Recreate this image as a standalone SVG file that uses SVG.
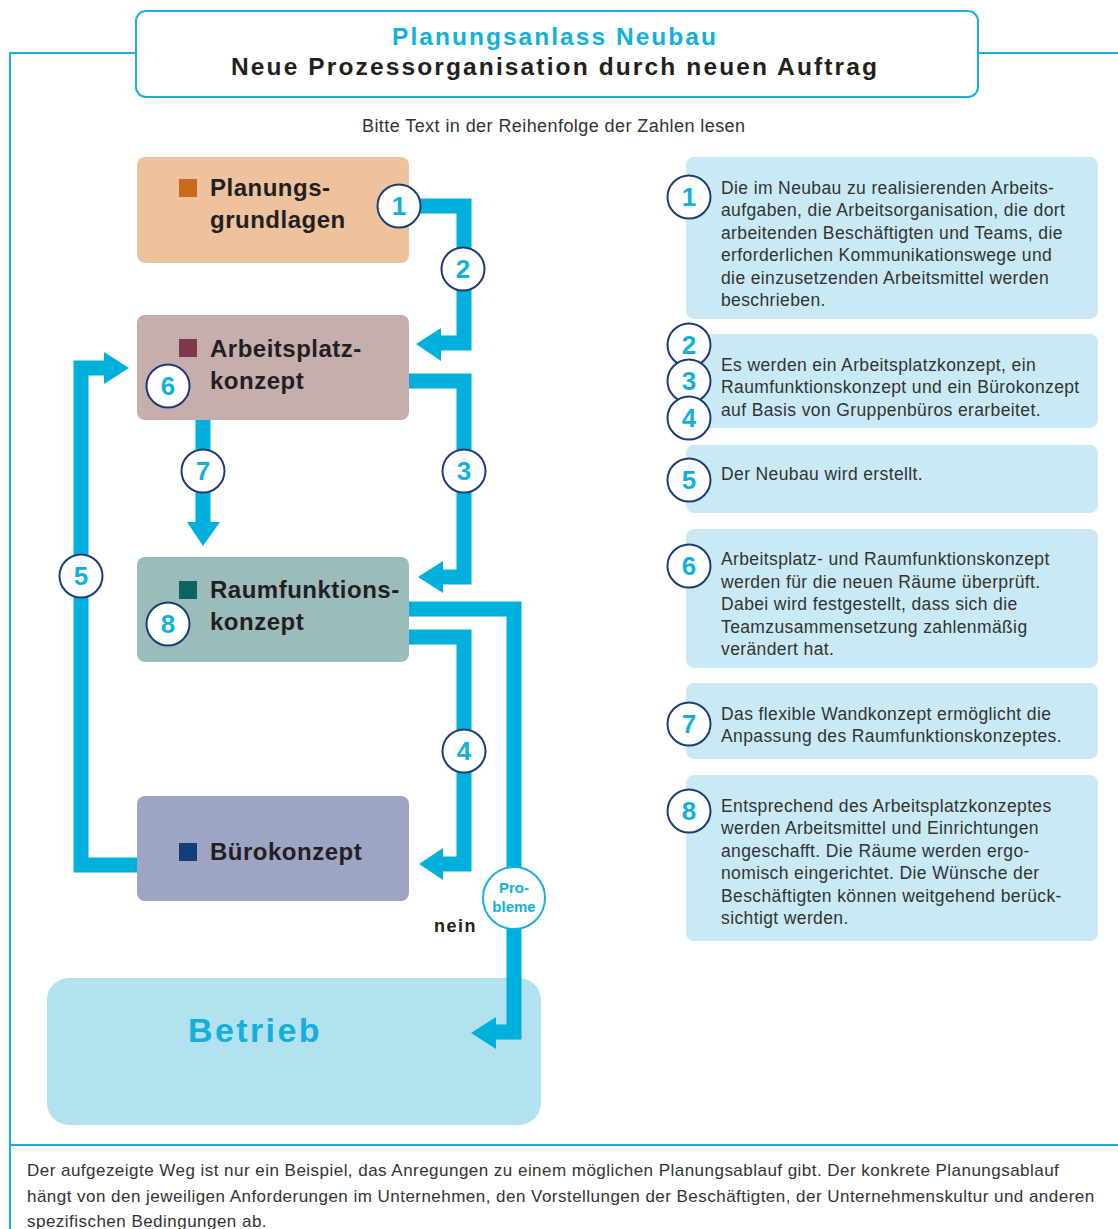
<svg xmlns="http://www.w3.org/2000/svg" width="1118" height="1229" viewBox="0 0 1118 1229">
<style>
text{font-family:"Liberation Sans",Arial,sans-serif}
.frame{fill:none;stroke:#1ab0d8;stroke-width:2}
.con{fill:none;stroke:#00b0dc;stroke-width:15;stroke-linejoin:miter}
.ah{fill:#00b0dc}
.lbl{font-size:24px;font-weight:bold;fill:#231f20;letter-spacing:0.5px}
.num circle{fill:#fff;stroke:#1b3c74;stroke-width:2}
.num text{font-size:26px;font-weight:bold;fill:#12b0da;text-anchor:middle}
.desc{fill:#c9eaf4}
.dt{font-size:17.5px;fill:#333;letter-spacing:0.38px}
.ft{font-size:17px;fill:#333;letter-spacing:0.47px}
</style>
<rect width="1118" height="1229" fill="#fff"/>
<g id="frame">
<polyline class="frame" points="136,53 10,53 10,1229"/>
<line class="frame" x1="978" y1="53" x2="1118" y2="53"/>
<line class="frame" x1="10" y1="1145" x2="1118" y2="1145"/>
</g>
<g id="title">
<rect x="136" y="11" width="842" height="86" rx="10" fill="#fff" stroke="#1ab0d8" stroke-width="2"/>
<text x="392" y="45" font-size="24.5" font-weight="bold" fill="#12b0da" textLength="324" lengthAdjust="spacing">Planungsanlass Neubau</text>
<text x="231" y="75" font-size="24.5" font-weight="bold" fill="#231f20" textLength="646" lengthAdjust="spacing">Neue Prozessorganisation durch neuen Auftrag</text>
</g>
<text x="362" y="132" font-size="18" fill="#333" textLength="383" lengthAdjust="spacing">Bitte Text in der Reihenfolge der Zahlen lesen</text>

<g id="n-planungsgrundlagen">
<rect x="137" y="157" width="272" height="106" rx="8" fill="#edc29c"/>
<rect x="179" y="179" width="18" height="18" fill="#c86a1e"/>
<text class="lbl" x="210" y="196">Planungs-</text>
<text class="lbl" x="210" y="228">grundlagen</text>
</g>
<g id="n-arbeitsplatzkonzept">
<rect x="137" y="315" width="272" height="105" rx="8" fill="#c6aeae"/>
<rect x="179" y="339" width="18" height="18" fill="#7a3a4a"/>
<text class="lbl" x="210" y="357">Arbeitsplatz-</text>
<text class="lbl" x="210" y="389">konzept</text>
</g>
<g id="n-raumfunktionskonzept">
<rect x="137" y="557" width="272" height="105" rx="8" fill="#9cbcbb"/>
<rect x="179" y="581" width="18" height="18" fill="#0c6460"/>
<text class="lbl" x="210" y="598">Raumfunktions-</text>
<text class="lbl" x="210" y="630">konzept</text>
</g>
<g id="n-buerokonzept">
<rect x="137" y="796" width="272" height="105" rx="8" fill="#9ea4c4"/>
<rect x="179" y="843" width="18" height="18" fill="#123f7a"/>
<text class="lbl" x="210" y="860">Bürokonzept</text>
</g>
<g id="n-betrieb">
<rect x="47" y="978" width="494" height="147" rx="22" fill="#b2e1f0"/>
<text x="188" y="1042" font-size="34" font-weight="bold" fill="#12b0da" letter-spacing="2.4">Betrieb</text>
</g>

<g id="connectors">
<polyline class="con" points="409,206 464,206 464,343 440,343"/>
<polygon class="ah" points="416,344 441,328 441,361"/>
<polyline class="con" points="409,381 464,381 464,577 442,577"/>
<polygon class="ah" points="418,577 443,561 443,593"/>
<polyline class="con" points="203,420 203,523"/>
<polygon class="ah" points="187,522 220,522 203,546"/>
<polyline class="con" points="137,865 81,865 81,368 105,368"/>
<polygon class="ah" points="104,352 104,384 129,368"/>
<polyline class="con" points="409,637 464,637 464,864 442,864"/>
<polygon class="ah" points="419,864 443,848 443,880"/>
<polyline class="con" points="409,609 514,609 514,1032 495,1032"/>
<polygon class="ah" points="471,1033 496,1017 496,1049"/>
</g>

<g id="flow-numbers" class="num">
<circle cx="399" cy="206" r="21.5"/><text x="399" y="215">1</text>
<circle cx="463" cy="269" r="21.5"/><text x="463" y="278">2</text>
<circle cx="168" cy="386" r="21.5"/><text x="168" y="395">6</text>
<circle cx="464" cy="471" r="21.5"/><text x="464" y="480">3</text>
<circle cx="203" cy="471" r="21.5"/><text x="203" y="480">7</text>
<circle cx="81" cy="576" r="21.5"/><text x="81" y="585">5</text>
<circle cx="168" cy="624" r="21.5"/><text x="168" y="633">8</text>
<circle cx="464" cy="751" r="21.5"/><text x="464" y="760">4</text>
</g>
<g id="n-probleme">
<circle cx="514" cy="898" r="31" fill="#fff" stroke="#1ab0d8" stroke-width="2"/>
<text x="514" y="893" text-anchor="middle" font-size="15" font-weight="bold" fill="#12b0da">Pro-</text>
<text x="514" y="912" text-anchor="middle" font-size="15" font-weight="bold" fill="#12b0da">bleme</text>
</g>
<text x="434" y="932" font-size="18" font-weight="bold" fill="#231f20" letter-spacing="1.5">nein</text>

<g id="d1">
<rect class="desc" x="686" y="157" width="412" height="162" rx="8"/>
<text class="dt" x="721" y="194">Die im Neubau zu realisierenden Arbeits-</text>
<text class="dt" x="721" y="216">aufgaben, die Arbeitsorganisation, die dort</text>
<text class="dt" x="721" y="239">arbeitenden Beschäftigten und Teams, die</text>
<text class="dt" x="721" y="261">erforderlichen Kommunikationswege und</text>
<text class="dt" x="721" y="284">die einzusetzenden Arbeitsmittel werden</text>
<text class="dt" x="721" y="306">beschrieben.</text>
</g>
<g id="d234">
<rect class="desc" x="686" y="334" width="412" height="94" rx="8"/>
<text class="dt" x="721" y="371">Es werden ein Arbeitsplatzkonzept, ein</text>
<text class="dt" x="721" y="393">Raumfunktionskonzept und ein Bürokonzept</text>
<text class="dt" x="721" y="416">auf Basis von Gruppenbüros erarbeitet.</text>
</g>
<g id="d5">
<rect class="desc" x="686" y="445" width="412" height="68" rx="8"/>
<text class="dt" x="721" y="480">Der Neubau wird erstellt.</text>
</g>
<g id="d6">
<rect class="desc" x="686" y="529" width="412" height="139" rx="8"/>
<text class="dt" x="721" y="565">Arbeitsplatz- und Raumfunktionskonzept</text>
<text class="dt" x="721" y="588">werden für die neuen Räume überprüft.</text>
<text class="dt" x="721" y="610">Dabei wird festgestellt, dass sich die</text>
<text class="dt" x="721" y="633">Teamzusammensetzung zahlenmäßig</text>
<text class="dt" x="721" y="655">verändert hat.</text>
</g>
<g id="d7">
<rect class="desc" x="686" y="683" width="412" height="76" rx="8"/>
<text class="dt" x="721" y="720">Das flexible Wandkonzept ermöglicht die</text>
<text class="dt" x="721" y="742">Anpassung des Raumfunktionskonzeptes.</text>
</g>
<g id="d8">
<rect class="desc" x="686" y="775" width="412" height="166" rx="8"/>
<text class="dt" x="721" y="812">Entsprechend des Arbeitsplatzkonzeptes</text>
<text class="dt" x="721" y="834">werden Arbeitsmittel und Einrichtungen</text>
<text class="dt" x="721" y="857">angeschafft. Die Räume werden ergo-</text>
<text class="dt" x="721" y="879">nomisch eingerichtet. Die Wünsche der</text>
<text class="dt" x="721" y="902">Beschäftigten können weitgehend berück-</text>
<text class="dt" x="721" y="924">sichtigt werden.</text>
</g>
<g id="desc-numbers" class="num">
<circle cx="689" cy="345" r="21.5"/><text x="689" y="354">2</text>
<circle cx="689" cy="381" r="21.5"/><text x="689" y="390">3</text>
<circle cx="689" cy="418" r="21.5"/><text x="689" y="427">4</text>
<circle cx="689" cy="197" r="21.5"/><text x="689" y="206">1</text>
<circle cx="689" cy="480" r="21.5"/><text x="689" y="489">5</text>
<circle cx="689" cy="566" r="21.5"/><text x="689" y="575">6</text>
<circle cx="689" cy="724" r="21.5"/><text x="689" y="733">7</text>
<circle cx="689" cy="811" r="21.5"/><text x="689" y="820">8</text>
</g>

<g id="footer">
<text class="ft" x="27" y="1176">Der aufgezeigte Weg ist nur ein Beispiel, das Anregungen zu einem möglichen Planungsablauf gibt. Der konkrete Planungsablauf</text>
<text class="ft" x="27" y="1202">hängt von den jeweiligen Anforderungen im Unternehmen, den Vorstellungen der Beschäftigten, der Unternehmenskultur und anderen</text>
<text class="ft" x="27" y="1227">spezifischen Bedingungen ab.</text>
</g>
</svg>
